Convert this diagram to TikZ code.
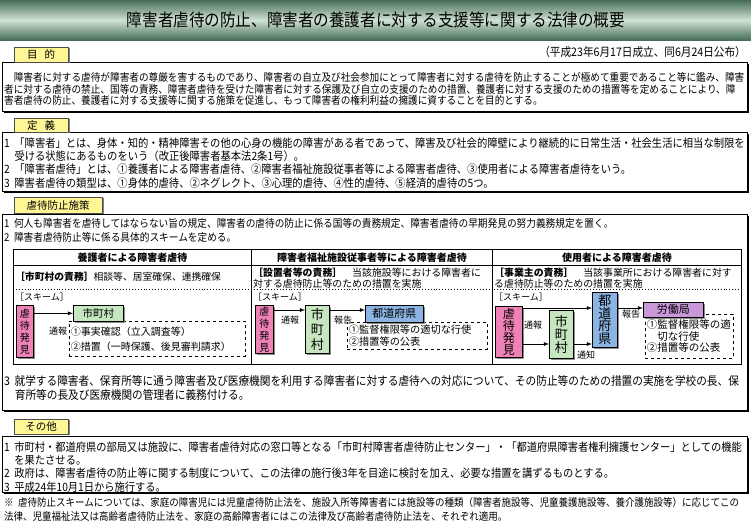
\documentclass[tikz,border=0pt]{standalone}
\usepackage{fontspec}
\newfontfamily\jp[FakeStretch=0.9]{Noto Sans CJK JP}
\newfontfamily\jpw{Noto Sans CJK JP}
\usetikzlibrary{positioning,shadows,calc}
\tikzset{>=latex}
\newcommand{\jpfs}[2]{\fontsize{#1}{#2}\selectfont}
\newcommand{\numsep}{\hspace{4.5pt}}
\definecolor{bannerdark}{RGB}{70,110,86}
\definecolor{bannerlight}{RGB}{208,226,212}
\definecolor{tabyellow}{RGB}{255,246,150}
\definecolor{hakkenpink}{RGB}{238,130,182}
\definecolor{shigreen}{RGB}{198,230,192}
\definecolor{kenblue}{RGB}{140,180,226}
\definecolor{kyokupurple}{RGB}{200,152,218}

\begin{document}
\begin{tikzpicture}[x=1pt,y=-1pt,
    tabbox/.style={draw=black!70, fill=tabyellow, inner sep=0pt, anchor=north west, drop shadow={shadow xshift=1.6pt, shadow yshift=-1pt, fill=black!50, opacity=1}, font=\jpw\jpfs{10.5}{10.5}},
    panel/.style={draw, line width=0.9pt, fill=white, inner sep=0pt, anchor=north west, drop shadow={shadow xshift=1.3pt, shadow yshift=-1.3pt, fill=black, opacity=1}},
    paratext/.style={anchor=west, inner sep=0pt, align=left},
    tablecell/.style={draw, line width=0.9pt, inner sep=0pt, anchor=north west},
    schemebox/.style={draw, line width=0.6pt, inner sep=0pt, anchor=north west, align=center, drop shadow={shadow xshift=1.3pt, shadow yshift=-1.3pt, fill=black!45, opacity=1}},
    dashbox/.style={draw, dashed, line width=0.9pt, inner xsep=1.5pt, inner ysep=0pt, anchor=north west, align=left, fill=white},
    flowlabel/.style={inner sep=0pt, font=\jpw\jpfs{9}{9}},
    flowarrow/.style={->, line width=0.8pt}]
    \useasboundingbox (0,0) rectangle (751,522);

    \shade[top color=bannerdark, bottom color=bannerdark, middle color=bannerlight] (0,0) rectangle (751,40);
    \node[font=\jp\jpfs{17.3}{17.3}] (title) at (376,20) {障害者虐待の防止、障害者の養護者に対する支援等に関する法律の概要};
    \node[anchor=east, inner sep=0pt, font=\jp\jpfs{11.8}{11.8}] (date) at (746,52) {（平成23年6月17日成立、同6月24日公布）};

    \node[panel, minimum width=745pt, minimum height=49pt] (mokutekibox) at (2,62) {};
    \node[tabbox, minimum width=54pt, minimum height=15pt] (mokutekitab) at (14,47) {目\hspace{7pt}的};
    \node[paratext, font=\jp\jpfs{10.7}{11.5}] (mokutekitext) at (4,89.2) {　障害者に対する虐待が障害者の尊厳を害するものであり、障害者の自立及び社会参加にとって障害者に対する虐待を防止することが極めて重要であること等に鑑み、障害\\者に対する虐待の禁止、国等の責務、障害者虐待を受けた障害者に対する保護及び自立の支援のための措置、養護者に対する支援のための措置等を定めることにより、障\\害者虐待の防止、養護者に対する支援等に関する施策を促進し、もって障害者の権利利益の擁護に資することを目的とする。};

    \node[panel, minimum width=745pt, minimum height=59pt] (teigibox) at (2,132) {};
    \node[tabbox, minimum width=54pt, minimum height=14pt] (teigitab) at (14,118) {定\hspace{7pt}義};
    \node[paratext, font=\jp\jpfs{11.45}{13.3}] (teigitext) at (4,163) {1\numsep「障害者」とは、身体・知的・精神障害その他の心身の機能の障害がある者であって、障害及び社会的障壁により継続的に日常生活・社会生活に相当な制限を\\　受ける状態にあるものをいう（改正後障害者基本法2条1号）。\\2\numsep「障害者虐待」とは、①養護者による障害者虐待、②障害者福祉施設従事者等による障害者虐待、③使用者による障害者虐待をいう。\\3\numsep 障害者虐待の類型は、①身体的虐待、②ネグレクト、③心理的虐待、④性的虐待、⑤経済的虐待の5つ。};

    \node[panel, minimum width=745pt, minimum height=196pt] (shisakubox) at (2,214) {};
    \node[tabbox, minimum width=88pt, minimum height=16pt] (shisakutab) at (14,197) {虐待防止施策};
    \node[paratext, font=\jp\jpfs{10.75}{14}] (shisakutext) at (4,230) {1\numsep 何人も障害者を虐待してはならない旨の規定、障害者の虐待の防止に係る国等の責務規定、障害者虐待の早期発見の努力義務規定を置く。\\2\numsep 障害者虐待防止等に係る具体的スキームを定める。};

    \node[tablecell, minimum width=238pt, minimum height=16pt, font=\jpw\bfseries\jpfs{10}{10}] (headA) at (13,249) {養護者による障害者虐待};
    \node[tablecell, minimum width=241pt, minimum height=16pt, font=\jpw\bfseries\jpfs{10}{10}] (headB) at (251,249) {障害者福祉施設従事者等による障害者虐待};
    \node[tablecell, minimum width=249pt, minimum height=16pt, font=\jpw\bfseries\jpfs{10}{10}] (headC) at (492,249) {使用者による障害者虐待};
    \node[tablecell, minimum width=238pt, minimum height=99pt] (bodyA) at (13,265) {};
    \node[tablecell, minimum width=241pt, minimum height=99pt] (bodyB) at (251,265) {};
    \node[tablecell, minimum width=249pt, minimum height=99pt] (bodyC) at (492,265) {};
    \draw[dotted, line width=0.9pt] (bodyA.west |- 0,289) -- (bodyC.east |- 0,289);

    \node[paratext, font=\jpw\jpfs{9.8}{11.5}] (dutyA) at (15,277) {\textbf{［市町村の責務］}相談等、居室確保、連携確保};
    \node[paratext, font=\jpw\jpfs{9.9}{11.5}] (dutyB) at (253,278) {\textbf{［設置者等の責務］}　当該施設等における障害者に\\対する虐待防止等のための措置を実施};
    \node[paratext, font=\jpw\jpfs{9.9}{11.5}] (dutyC) at (494,278) {\textbf{［事業主の責務］}　当該事業所における障害者に対す\\る虐待防止等のための措置を実施};
    \node[paratext, font=\jpw\jpfs{9}{9}] (schemeA) at (15,297) {［スキーム］};
    \node[paratext, font=\jpw\jpfs{9}{9}] (schemeB) at (253,297) {［スキーム］};
    \node[paratext, font=\jpw\jpfs{9}{9}] (schemeC) at (494,297) {［スキーム］};

    \node[dashbox, text width=173pt, minimum height=35pt, font=\jpw\jpfs{10}{15}] (taiouA) at (69,321) {①事実確認（立入調査等）\\②措置（一時保護、後見審判請求）};
    \node[schemebox, fill=hakkenpink, minimum width=17pt, minimum height=52pt, font=\jpw\jpfs{10}{12}] (hakkenA) at (16,305) {虐\\待\\発\\見};
    \node[schemebox, fill=shigreen, minimum width=50pt, minimum height=16pt, font=\jpw\jpfs{10.5}{10.5}] (shichosonA) at (73,305) {市町村};
    \node[flowlabel] (tsuhoA) at (58,331) {通報};
    \draw[flowarrow] (hakkenA.east |- shichosonA.west) -- (shichosonA.west);

    \node[dashbox, text width=137pt, minimum height=27pt, font=\jpw\jpfs{10.2}{12}] (taiouB) at (347,322) {①監督権限等の適切な行使\\②措置等の公表};
    \node[schemebox, fill=hakkenpink, minimum width=18pt, minimum height=48pt, font=\jpw\jpfs{10}{12}] (hakkenB) at (255,305) {虐\\待\\発\\見};
    \node[schemebox, fill=shigreen, minimum width=24pt, minimum height=48pt, font=\jpw\jpfs{13}{15}] (shichosonB) at (305,305) {市\\町\\村};
    \node[schemebox, fill=kenblue, minimum width=58pt, minimum height=17pt, font=\jpw\jpfs{11}{11}] (todofukenB) at (365,305) {都道府県};
    \node[flowlabel] (tsuhoB) at (290,320) {通報};
    \node[flowlabel] (hokokuB) at (343,320) {報告};
    \coordinate (rowB) at (0,310);
    \draw[flowarrow] (hakkenB.east |- rowB) -- (shichosonB.west |- rowB);
    \draw[flowarrow] (shichosonB.east |- rowB) -- (todofukenB.west |- rowB);

    \node[dashbox, text width=85pt, minimum height=44pt, font=\jpw\jpfs{10.5}{11.5}] (taiouC) at (645,314) {①監督権限等の適\\　切な行使\\②措置等の公表};
    \node[schemebox, fill=hakkenpink, minimum width=27pt, minimum height=51pt, font=\jpw\jpfs{12}{12}] (hakkenC) at (495,306) {虐\\待\\発\\見};
    \node[schemebox, fill=shigreen, minimum width=24pt, minimum height=48pt, font=\jpw\jpfs{13}{13}] (shichosonC) at (549,310) {市\\町\\村};
    \node[schemebox, fill=kenblue, minimum width=25pt, minimum height=55pt, font=\jpw\jpfs{13}{12.5}] (todofukenC) at (592,292) {都\\道\\府\\県};
    \node[schemebox, fill=kyokupurple, minimum width=60pt, minimum height=15pt, font=\jpw\jpfs{11}{11}] (roudoukyokuC) at (643,302) {労働局};
    \node[flowlabel] (tsuhoC) at (533,325) {通報};
    \node[flowlabel] (tsuchiC) at (586,355) {通知};
    \node[flowlabel] (hokokuC) at (631,314) {報告};
    \coordinate (rowCtop) at (0,308);
    \coordinate (rowCbot) at (0,344);
    \draw[flowarrow] (hakkenC.east |- rowCtop) -- (todofukenC.west |- rowCtop);
    \draw[flowarrow] (hakkenC.east |- rowCbot) -- (shichosonC.west |- rowCbot);
    \draw[flowarrow] (shichosonC.east |- rowCbot) -- (todofukenC.west |- rowCbot);
    \draw[flowarrow] (todofukenC.east |- rowCtop) -- (roudoukyokuC.west |- rowCtop);

    \node[paratext, font=\jp\jpfs{11.85}{14}] (shugakutext) at (4,388) {3\numsep 就学する障害者、保育所等に通う障害者及び医療機関を利用する障害者に対する虐待への対応について、その防止等のための措置の実施を学校の長、保\\　育所等の長及び医療機関の管理者に義務付ける。};

    \node[panel, minimum width=745pt, minimum height=56pt] (sonotabox) at (2,436) {};
    \node[tabbox, minimum width=54pt, minimum height=15pt] (sonotatab) at (14,419) {その他};
    \node[paratext, font=\jp\jpfs{11.4}{13.3}] (sonotatext) at (4,467) {1\numsep 市町村・都道府県の部局又は施設に、障害者虐待対応の窓口等となる「市町村障害者虐待防止センター」・「都道府県障害者権利擁護センター」としての機能\\　を果たさせる。\\2\numsep 政府は、障害者虐待の防止等に関する制度について、この法律の施行後3年を目途に検討を加え、必要な措置を講ずるものとする。\\3\numsep 平成24年10月1日から施行する。};

    \node[paratext, font=\jp\jpfs{10.55}{14}] (notetext) at (4,509) {※\numsep 虐待防止スキームについては、家庭の障害児には児童虐待防止法を、施設入所等障害者には施設等の種類（障害者施設等、児童養護施設等、養介護施設等）に応じてこの\\法律、児童福祉法又は高齢者虐待防止法を、家庭の高齢障害者にはこの法律及び高齢者虐待防止法を、それぞれ適用。};
\end{tikzpicture}
\end{document}
